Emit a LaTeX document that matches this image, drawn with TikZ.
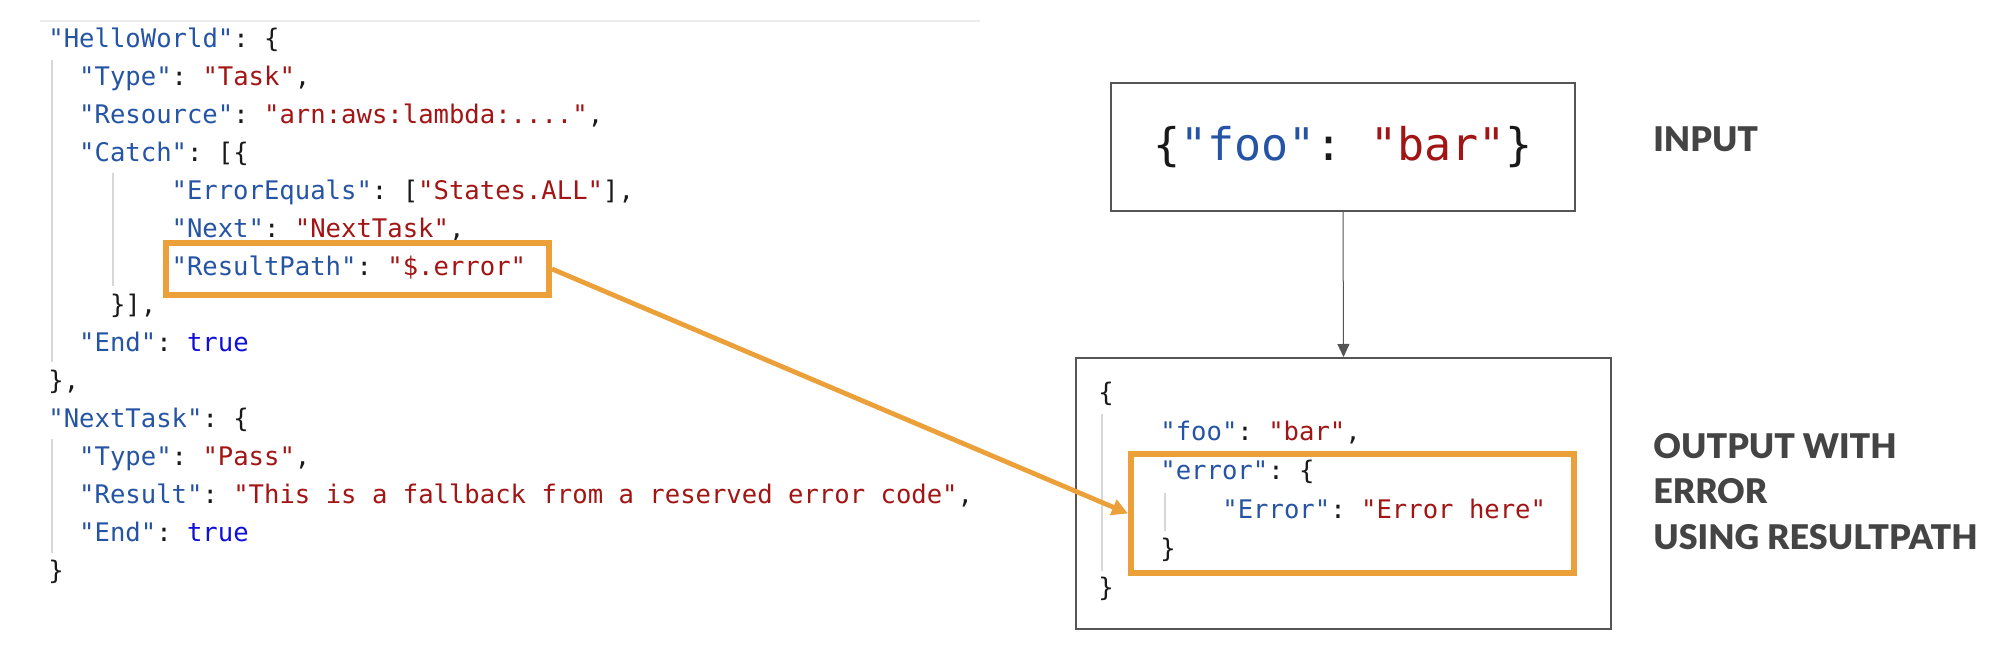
\documentclass[tikz,border=0pt]{standalone}
\usepackage{fontspec}
\setmonofont{DejaVu Sans Mono}
\newfontfamily\lblfont{Lato}[BoldFont={Lato Black}]
\usetikzlibrary{arrows.meta}
\definecolor{keyblue}{RGB}{38,84,164}
\definecolor{strred}{RGB}{163,21,21}
\definecolor{trueblue}{RGB}{16,16,215}
\definecolor{codeblack}{RGB}{25,25,25}
\definecolor{hlorange}{RGB}{236,160,58}
\definecolor{boxgray}{RGB}{85,85,85}
\definecolor{guidegray}{RGB}{215,215,215}
\definecolor{topgray}{RGB}{236,236,236}
\definecolor{lblgray}{RGB}{68,68,68}
\newcommand\jk[1]{\textcolor{keyblue}{"#1"}}
\newcommand\js[1]{\textcolor{strred}{"#1"}}
\newcommand\jt{\textcolor{trueblue}{true}}
\begin{document}
\begin{tikzpicture}[x=0.5pt,y=-0.5pt,
  code/.style={anchor=base west, inner sep=0pt, text=codeblack,
    font=\ttfamily\fontsize{12.8}{15}\selectfont},
  bigcode/.style={font=\ttfamily\fontsize{22.5}{26}\selectfont, text=codeblack},
  jbox/.style={draw=boxgray, line width=1pt, inner sep=0pt},
  hl/.style={draw=hlorange, line width=3pt, inner sep=0pt},
  guide/.style={draw=guidegray, line width=1pt},
  lbl/.style={anchor=base west, inner sep=0pt, text=lblgray,
    font=\lblfont\bfseries\fontsize{17}{20}\selectfont},
  flow/.style={draw=boxgray, line width=0.5pt, -{Triangle[length=6.5pt,width=6pt]}},
  hlarrow/.style={draw=hlorange, line width=2.4pt, -{Triangle[length=8pt,width=8pt]}}]
\useasboundingbox (0,0) rectangle (2004,656);
\fill[white] (0,0) rectangle (2004,656);
% top rule
\draw[topgray, line width=1pt] (40,21) -- (980,21);
% left code guides
\draw[guide] (52,60) -- (52,362);
\draw[guide] (113,173) -- (113,286);
\draw[guide] (52,439) -- (52,553);
% left code
\node[code] (l1) at (48,48) {\jk{HelloWorld}: \{};
\node[code] (l2) at (78.8,86) {\jk{Type}: \js{Task},};
\node[code] (l3) at (78.8,124) {\jk{Resource}: \js{arn:aws:lambda:....},};
\node[code] (l4) at (78.8,162) {\jk{Catch}: [\{};
\node[code] (l5) at (171.2,200) {\jk{ErrorEquals}: [\js{States.ALL}],};
\node[code] (l6) at (171.2,238) {\jk{Next}: \js{NextTask},};
\node[code] (l7) at (171.2,276) {\jk{ResultPath}: \js{\$.error}};
\node[code] (l8) at (109.6,314) {\}],};
\node[code] (l9) at (78.8,352) {\jk{End}: \jt};
\node[code] (l10) at (48,390) {\},};
\node[code] (l11) at (48,428) {\jk{NextTask}: \{};
\node[code] (l12) at (78.8,466) {\jk{Type}: \js{Pass},};
\node[code] (l13) at (78.8,504) {\jk{Result}: \js{This is a fallback from a reserved error code},};
\node[code] (l14) at (78.8,542) {\jk{End}: \jt};
\node[code] (l15) at (48,580) {\}};
% input box
\node[jbox, minimum width=232pt, minimum height=64pt, bigcode] (in) at (1343,147)
  {\{\jk{foo}: \js{bar}\}};
% output box
\node[jbox, minimum width=267.5pt, minimum height=135.5pt] (out) at (1343.5,493.5) {};
\draw[guide] (1102,414) -- (1102,571);
\draw[guide] (1165,493) -- (1165,531);
\node[code] (o1) at (1098,402) {\{};
\node[code] (o2) at (1160,441) {\jk{foo}: \js{bar},};
\node[code] (o3) at (1160,480) {\jk{error}: \{};
\node[code] (o4) at (1222,519) {\jk{Error}: \js{Error here}};
\node[code] (o5) at (1160,558) {\}};
\node[code] (o6) at (1098,597) {\}};
% highlights
\node[hl, minimum width=191.5pt, minimum height=26pt] (rp) at (357.5,269) {};
\node[hl, minimum width=221.5pt, minimum height=59.5pt] (eb) at (1352.5,513.5) {};
% connectors
\draw[flow] (in.south) -- (out.north);
\draw[hlarrow] (rp.east) -- (eb.west);
% labels
\node[lbl] (inlbl) at (1653,151.5) {INPUT};
\node[lbl] (outlbl1) at (1653,458.5) {OUTPUT WITH};
\node[lbl] (outlbl2) at (1653,504) {ERROR};
\node[lbl] (outlbl3) at (1653,549.5) {USING RESULTPATH};
\end{tikzpicture}
\end{document}
